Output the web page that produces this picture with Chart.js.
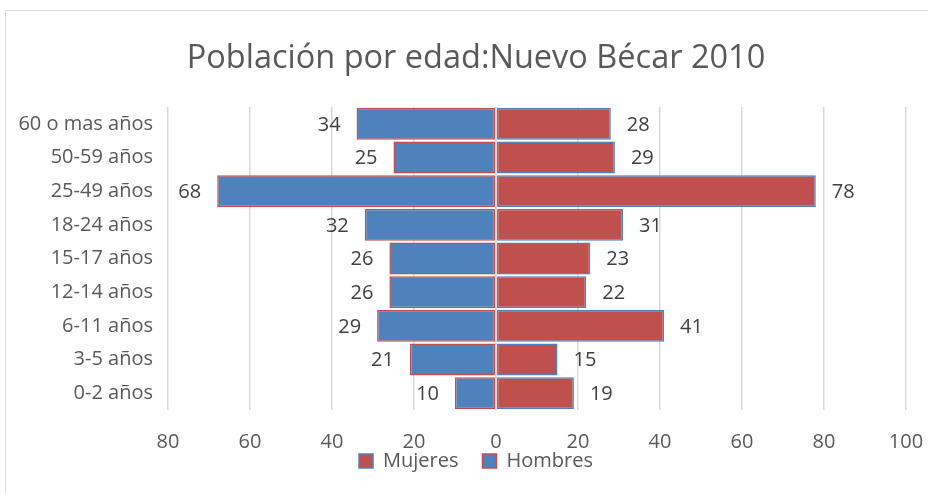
<!DOCTYPE html>
<html>
<head>
<meta charset="utf-8">
<script src="https://cdn.jsdelivr.net/npm/chart.js@4.4.0/dist/chart.umd.min.js"></script>
<style>
  body { margin: 0; background: #fff; overflow: hidden; }
  #wrap { position: relative; width: 952px; height: 493px; }
  #frame { position: absolute; left: 5px; top: 10px; width: 940px; height: 500px; border: 1px solid #d9d9d9; pointer-events: none; }
</style>
</head>
<body>
<div id="wrap">
  <canvas id="myChart" width="952" height="493"></canvas>
  <div id="frame"></div>
</div>
<script>
const labels = ['60 o mas años', '50-59 años', '25-49 años', '18-24 años', '15-17 años', '12-14 años', '6-11 años', '3-5 años', '0-2 años'];
const hombres = [34, 25, 68, 32, 26, 26, 29, 21, 10];
const mujeres = [28, 29, 78, 31, 23, 22, 41, 15, 19];
const xTicks = [-80, -60, -40, -20, 0, 20, 40, 60, 80, 100];

const BLUE = '#4f81bd';
const RED = '#c0504d';
const TEXT = '#595959';
const FONT = '"Open Sans", sans-serif';

// data labels at the outside end of each bar + zero axis line
const barLabels = {
  id: 'barLabels',
  afterLayout(chart) {
    // legend sits tight under the tick labels
    chart.legend.top -= 27;
  },
  afterDatasetsDraw(chart) {
    const ctx = chart.ctx;
    ctx.save();
    ctx.font = '20px ' + FONT;
    ctx.fillStyle = '#404040';
    ctx.textBaseline = 'middle';
    chart.data.datasets.forEach((ds, i) => {
      chart.getDatasetMeta(i).data.forEach((bar, j) => {
        const v = ds.data[j];
        if (v < 0) {
          ctx.textAlign = 'right';
          ctx.fillText(Math.abs(v), bar.x - 16, bar.y + 1);
        } else {
          ctx.textAlign = 'left';
          ctx.fillText(v, bar.x + 16, bar.y + 1);
        }
      });
    });
    const x0 = chart.scales.x.getPixelForValue(0);
    ctx.strokeStyle = '#d9d9d9';
    ctx.lineWidth = 1.5;
    ctx.beginPath();
    ctx.moveTo(x0, chart.chartArea.top);
    ctx.lineTo(x0, chart.chartArea.bottom);
    ctx.stroke();
    ctx.restore();
  }
};

const ctx = document.getElementById('myChart').getContext('2d');
new Chart(ctx, {
  type: 'bar',
  data: {
    labels: labels,
    datasets: [{
      label: 'Mujeres',
      data: mujeres,
      backgroundColor: RED,
      borderColor: BLUE,
      borderWidth: 1.5,
      borderSkipped: false
    }, {
      label: 'Hombres',
      data: hombres.map(v => -v),
      backgroundColor: BLUE,
      borderColor: RED,
      borderWidth: 1.5,
      borderSkipped: false
    }]
  },
  options: {
    indexAxis: 'y',
    responsive: false,
    animation: false,
    layout: { padding: { left: 0, right: 0, top: 0, bottom: 0 } },
    datasets: { bar: { categoryPercentage: 1, barPercentage: 0.95 } },
    scales: {
      x: {
        stacked: true,
        min: -80,
        max: 100,
        afterBuildTicks(axis) { axis.ticks = xTicks.map(v => ({ value: v })); },
        afterFit(axis) { axis.height = 44; axis.paddingLeft = 0; axis.paddingRight = 46; },
        grid: { color: '#d9d9d9', lineWidth: 1.5, drawTicks: false },
        border: { display: false },
        ticks: {
          padding: 20,
          color: TEXT,
          font: { size: 20, family: FONT },
          callback: v => Math.abs(v)
        }
      },
      y: {
        stacked: true,
        afterFit(axis) { axis.width = 168; },
        grid: { display: false, drawTicks: false },
        border: { display: false },
        ticks: { padding: 15, color: TEXT, font: { size: 20, family: FONT } }
      }
    },
    plugins: {
      title: {
        display: true,
        text: 'Población por edad:Nuevo Bécar 2010',
        color: TEXT,
        font: { size: 32.5, family: FONT, weight: 'normal' },
        padding: { top: 39.5, bottom: 28.5 }
      },
      legend: {
        position: 'bottom',
        maxHeight: 39,
        labels: {
          color: TEXT,
          font: { size: 20, family: FONT },
          boxWidth: 14,
          boxHeight: 14,
          padding: 24
        }
      },
      tooltip: { enabled: false }
    }
  },
  plugins: [barLabels]
});
</script>
</body>
</html>
